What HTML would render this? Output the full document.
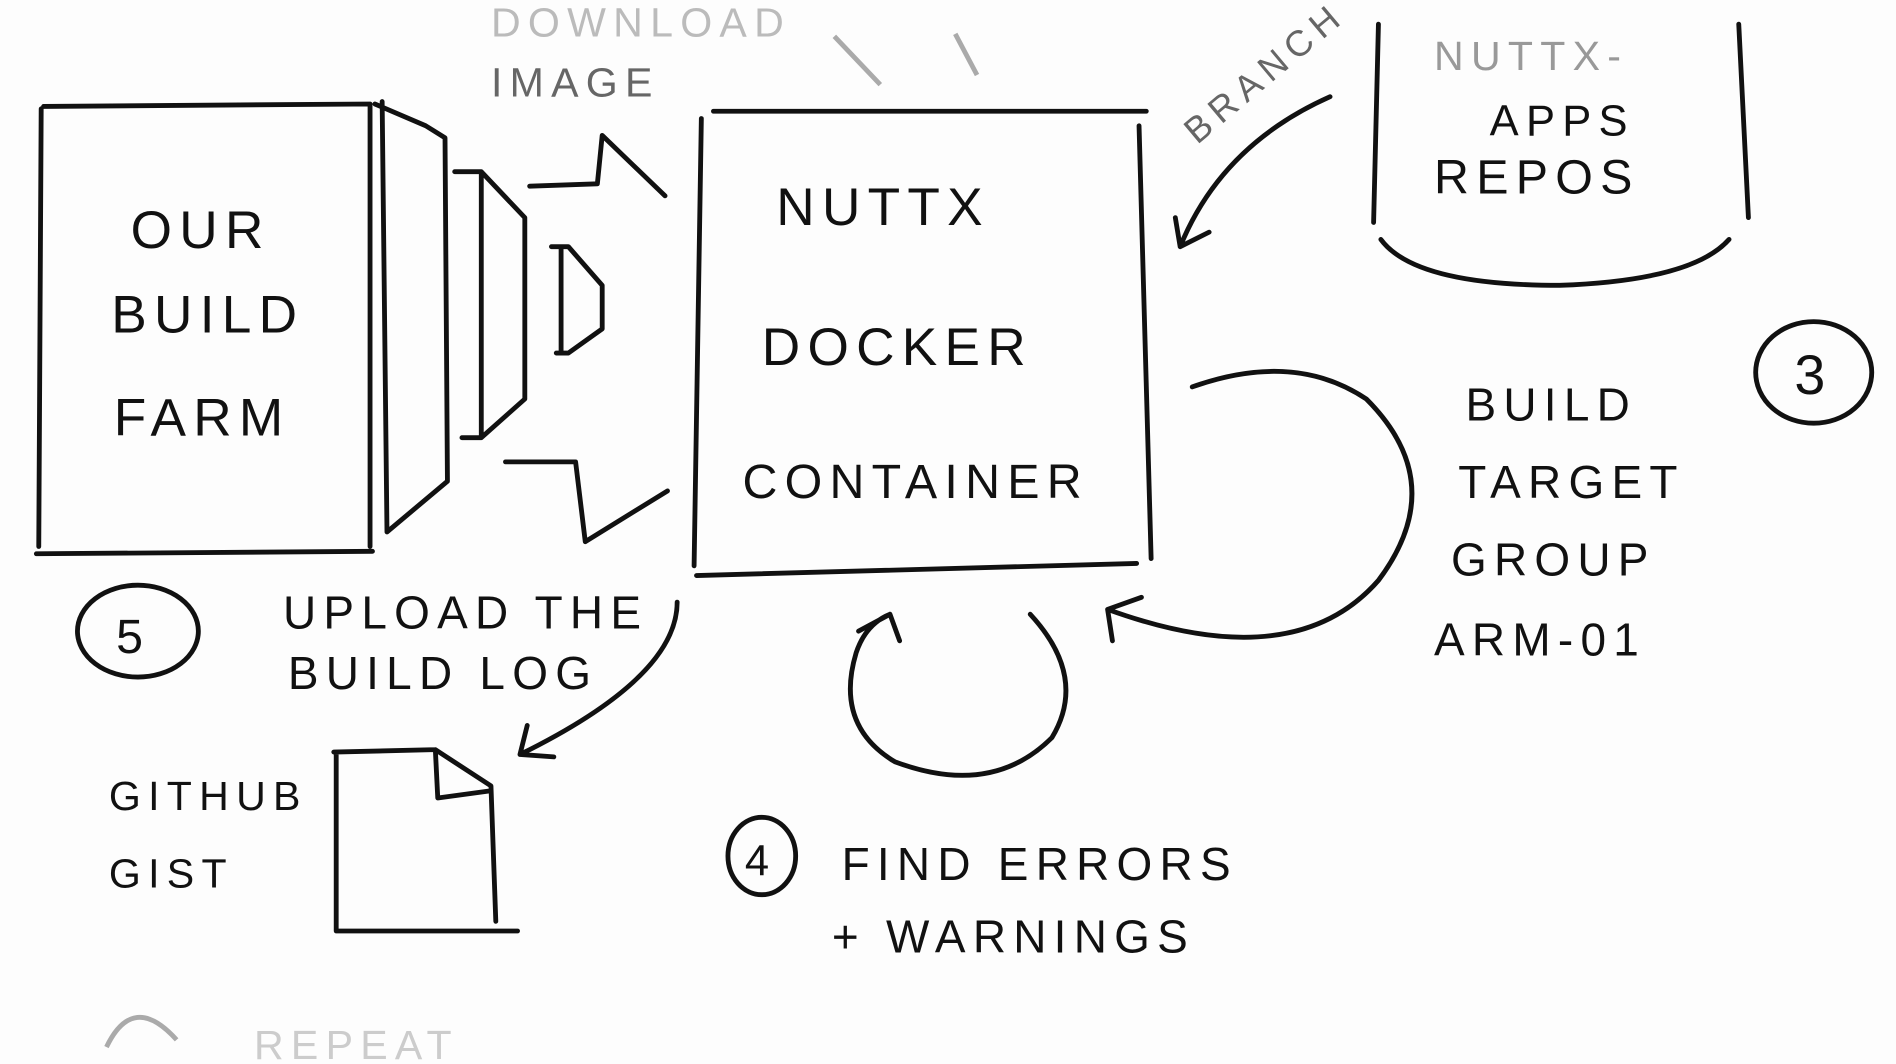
<!DOCTYPE html>
<html><head><meta charset="utf-8"><style>
html,body{margin:0;padding:0;background:#fff;width:1896px;height:1064px;overflow:hidden}
svg{display:block}
text{font-family:"Liberation Sans",sans-serif;fill:#111;letter-spacing:6px}
</style></head><body>
<svg width="1896" height="1064" viewBox="0 0 1568 880" xmlns="http://www.w3.org/2000/svg">
<rect width="1568" height="880" fill="#fdfdfd"/>
<g fill="none" stroke="#111" stroke-width="4" stroke-linecap="round" stroke-linejoin="round">
<!-- build farm box -->
<path d="M36 88 L306 86 M34 90 L32 452 M30 458 L308 456 M306 86 L306 452"/>
<path d="M310 86 L352 104 L368 114 L370 398 L320 440 L316 84"/>
<path d="M376 142 L398 142 L434 180 L434 330 L398 362 L382 362 M398 142 L398 360"/>
<path d="M456 204 L470 204 L498 236 L498 272 L470 292 L460 292 M464 204 L464 292"/>
<!-- zigzag connectors -->
<path d="M438 154 L494 152 L498 112 L550 162"/>
<path d="M418 382 L476 382 L484 448 L552 406"/>
<!-- docker box -->
<path d="M590 92 L948 92 M580 98 L574 468 M576 476 L940 466 M942 104 L952 462"/>
<!-- repos bucket -->
<path d="M1140 20 L1136 184 M1438 20 L1446 180 M1142 198 Q1170 236 1290 236 Q1400 232 1430 198"/>
<!-- branch arrow -->
<path d="M1100 80 Q1010 120 976 204 M976 204 L972 180 M976 204 L1000 192"/>
<!-- build target loop -->
<path d="M986 320 Q1070 290 1130 330 Q1200 400 1140 480 Q1070 560 916 504 M916 504 L944 494 M916 504 L920 530"/>
<!-- find errors loop -->
<path d="M852 508 Q900 560 870 610 Q820 660 740 630 Q690 600 708 540 Q716 516 736 508 M736 508 L710 522 M736 508 L744 530"/>
<!-- upload arrow -->
<path d="M560 498 Q560 560 430 624 M430 624 L436 600 M430 624 L458 626"/>
<!-- gist doc -->
<path d="M276 622 L360 620 L406 650 L410 762 M278 622 L278 770 M278 770 L428 770 M360 620 L362 660 L406 654"/>
<!-- circles -->
<ellipse cx="114" cy="522" rx="50" ry="38"/>
<ellipse cx="1500" cy="308" rx="48" ry="42"/>
<ellipse cx="630" cy="708" rx="28" ry="32"/>
</g>
<g font-size="44">
<text x="108" y="205">OUR</text>
<text x="92" y="275">BUILD</text>
<text x="94" y="360">FARM</text>
<text x="642" y="186">NUTTX</text>
<text x="630" y="302">DOCKER</text>
<text x="614" y="412" font-size="40">CONTAINER</text>
<text x="1186" y="160" font-size="40">REPOS</text>
<text x="1232" y="112" font-size="36">APPS</text>
</g>
<g font-size="38">
<text x="1212" y="348">BUILD</text>
<text x="1206" y="412">TARGET</text>
<text x="1200" y="476">GROUP</text>
<text x="1186" y="542">ARM-01</text>
<text x="234" y="520">UPLOAD THE</text>
<text x="238" y="570">BUILD LOG</text>
<text x="90" y="670" font-size="34">GITHUB</text>
<text x="90" y="734" font-size="34">GIST</text>
<text x="696" y="728">FIND ERRORS</text>
<text x="688" y="788">+ WARNINGS</text>
<text x="96" y="540" font-size="40">5</text>
<text x="1484" y="326" font-size="46">3</text>
<text x="616" y="724" font-size="36">4</text>
</g>
<g font-size="34" fill="#999" style="fill:#888">
<text x="406" y="80" style="fill:#666">IMAGE</text>
<text x="406" y="30" style="fill:#bbb">DOWNLOAD</text>
<text x="1186" y="58" style="fill:#999">NUTTX-</text>
<text x="990" y="120" font-size="30" transform="rotate(-40 990 120)" style="fill:#666">BRANCH</text>
<text x="210" y="876" style="fill:#ccc">REPEAT</text>
</g>
<path d="M690 30 L728 70 M790 28 L808 62 M88 866 Q110 820 146 860" fill="none" stroke="#aaa" stroke-width="4"/>
</svg>
</body></html>
